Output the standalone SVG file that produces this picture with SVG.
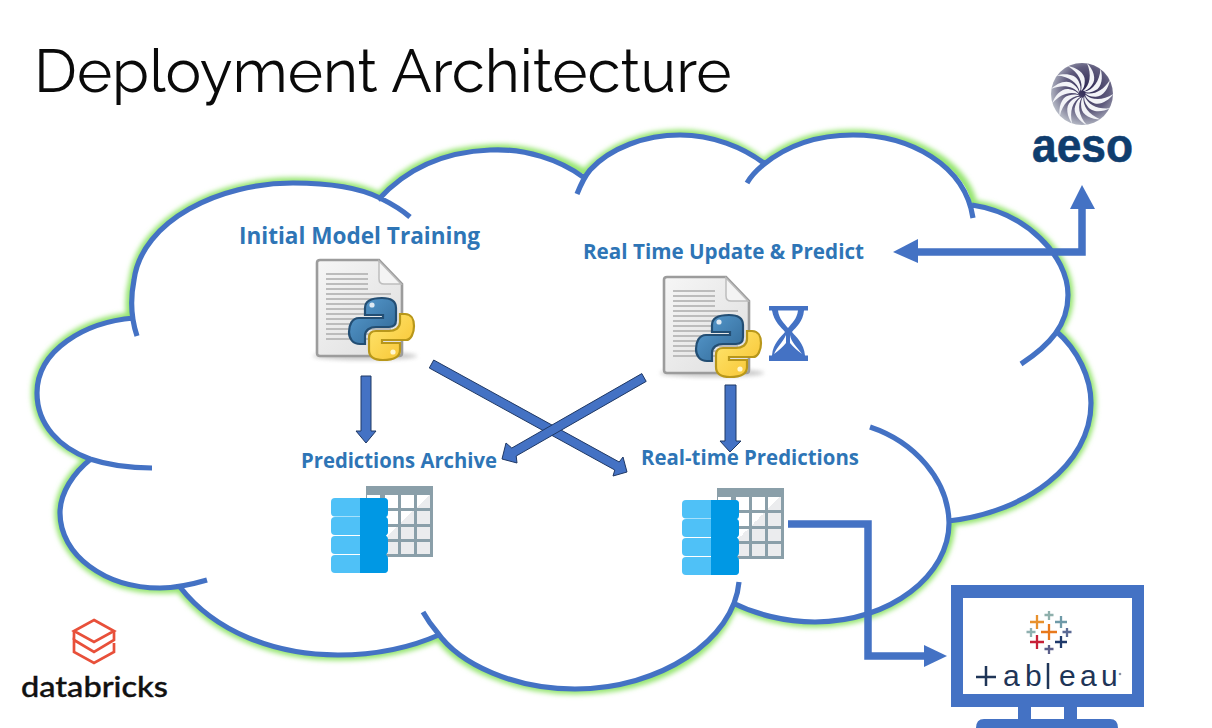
<svg xmlns="http://www.w3.org/2000/svg" width="1212" height="728" viewBox="0 0 1212 728">
<defs>
<style>
.t{font-family:"Open Sans","Noto Sans",sans-serif;font-weight:700;fill:#2e75b6}
.c{fill:none;stroke:#4472c4;stroke-width:5.2;stroke-linecap:butt}
.g{fill:none;stroke:#95e56f;stroke-width:11}
.w{fill:#fff}
.wire{fill:none;stroke:#4472c4;stroke-width:7.5}
.head{fill:#4472c4}
.big{fill:#4472c4;stroke:#1f3864;stroke-width:1}
.tb{font-family:"Liberation Sans",Arial,sans-serif;font-size:30px;fill:#1f3557}
</style>
<filter id="blur" x="-10%" y="-10%" width="120%" height="120%"><feGaussianBlur stdDeviation="2.8"/></filter>
<filter id="soft" x="-20%" y="-50%" width="140%" height="200%"><feGaussianBlur stdDeviation="2"/></filter>
<linearGradient id="py1" x1="0" y1="0" x2="1" y2="1"><stop offset="0" stop-color="#5a9fd4"/><stop offset="1" stop-color="#2f6592"/></linearGradient>
<linearGradient id="py2" x1="0" y1="0" x2="1" y2="1"><stop offset="0" stop-color="#ffe873"/><stop offset="1" stop-color="#f7c22e"/></linearGradient>
<linearGradient id="pg" x1="0" y1="0" x2="1" y2="1"><stop offset="0" stop-color="#f6f6f6"/><stop offset="1" stop-color="#dedede"/></linearGradient>
<linearGradient id="tg" gradientUnits="userSpaceOnUse" x1="66" y1="21" x2="86" y2="41"><stop offset=".5" stop-color="#fff"/><stop offset=".5" stop-color="#ebecee"/></linearGradient>
<radialGradient id="sph" cx=".58" cy=".42" r=".6"><stop offset="0" stop-color="#2a2450"/><stop offset=".6" stop-color="#5f5b7d"/><stop offset="1" stop-color="#b4b8c4"/></radialGradient>
<path id="blade" d="M1 -3C8 -9 10 -19 5 -31C11 -25 15 -15 10 -9C7 -5 4 -3 1 -3Z" fill="#f2f3f7"/>
<path id="cl" d="M137 336C131 318 130 300 134 280C142 220 220 183 293 183C330 183 360 188 380 198C392 204 402 210 410 217M378 200C405 170 440 152 490 150C525 148 560 160 583 177M577 194C581 184 585 176 590 170C610 148 645 135 680 135C712 135 743 147 765 164M747 183C751 176 757 170 763 165C785 147 815 135 853 135C910 135 965 165 973 218M972 205C1025 213 1068 255 1068 295C1068 325 1050 345 1021 364M1056 331C1078 350 1091 378 1091 403C1091 465 1025 513 948 521M870 427C915 442 948 480 949 522C950 575 890 622 815 622C785 622 755 614 733 603M739 582C734 640 660 689 575 689C515 689 460 665 437 632C431 625 427 619 423 612M180 587C215 632 275 655 338 655C375 655 410 648 441 634M207 580C190 585 175 588 160 588C105 588 60 555 60 513C60 493 73 473 92 458M152 468C130 468 108 465 90 459C60 448 37 425 37 393C37 350 85 322 134 318"/>
<path id="ol" d="M132 318C130 305 131 292 134 280C142 220 220 183 293 183C330 183 360 188 380 198C405 170 440 152 490 150C525 148 560 160 585 175C610 148 645 135 680 135C712 135 743 147 763 165C785 147 815 135 853 135C910 135 965 165 972 205C1025 213 1068 255 1068 295C1068 310 1064 321 1056 331C1078 350 1091 378 1091 403C1091 465 1025 513 950 521C950 575 890 622 815 622C785 622 755 614 733 603C715 650 660 689 575 689C515 689 460 665 439 635C410 648 375 655 338 655C275 655 215 632 180 587C175 588 165 588 160 588C105 588 60 555 60 513C60 493 73 473 92 458C60 448 37 425 37 393C37 350 85 322 132 318Z"/>
<g id="doc">
<ellipse cx="50" cy="97" rx="52" ry="4" fill="#999" opacity=".55" filter="url(#soft)"/>
<path d="M2 4Q2 1 5 1H64L87 25V94Q87 97 84 97H5Q2 97 2 94Z" fill="url(#pg)" stroke="#9c9c9c" stroke-width="2.6"/>
<path d="M64 2V20Q64 25 69 25H86Z" fill="#f4f4f4" stroke="#bdbdbd" stroke-width="1.5"/>
<path d="M11 15H53M11 20H53M11 25H53M11 30H53M11 35H76M11 40H76M11 45H76M11 50H76M11 55H76M11 60H76M11 65H76M11 70H76M11 75H76M11 80H76" stroke="#bcbcbc" stroke-width="2" fill="none"/>
<path d="M67 39C56 39 50 42 50 49V56H68V59H44C37 59 34 66 34 73C34 80 38 85 45 85H50V77C50 71 55 68 61 68H74C79 68 81 65 81 61V49C81 42 75 39 67 39Z" fill="url(#py1)" stroke="#234e73" stroke-width="2.2"/>
<path d="M68 101C79 101 85 98 85 91V84H67V81H91C96 81 99 74 99 67C99 60 96 55 90 55H85V63C85 69 80 72 74 72H61C56 72 54 75 54 79V91C54 98 60 101 68 101Z" fill="url(#py2)" stroke="#b8971a" stroke-width="2.2"/>
<circle cx="57" cy="46" r="2.6" fill="#dfeaf3"/><circle cx="78" cy="93" r="2.6" fill="#fff7d0"/>
</g>
<g id="tbl">
<rect x="35" y="0" width="67" height="71" fill="#8a9fa9"/>
<g fill="url(#tg)"><rect x="36" y="9" width="13" height="13"/><rect x="54" y="9" width="13" height="13"/><rect x="70" y="9" width="13" height="13"/><rect x="86" y="9" width="13" height="13"/>
<rect x="54" y="25" width="13" height="13"/><rect x="70" y="25" width="13" height="13"/><rect x="86" y="25" width="13" height="13"/>
<rect x="54" y="41" width="13" height="12"/><rect x="70" y="41" width="13" height="12"/><rect x="86" y="41" width="13" height="12"/>
<rect x="54" y="56" width="13" height="12"/><rect x="70" y="56" width="13" height="12"/><rect x="86" y="56" width="13" height="12"/></g>
<g fill="#4fc1f7"><rect x="0" y="12" width="57" height="18.5" rx="4"/><rect x="0" y="31" width="57" height="18" rx="4"/><rect x="0" y="50" width="57" height="18" rx="4"/><rect x="0" y="69" width="57" height="18" rx="4"/></g>
<path d="M29 12H53Q57 12 57 16V27Q57 30 55 31Q57 32 57 35V46Q57 48 55 49.500Q57 51 57 54V64Q57 67 55 68.500Q57 70 57 73V83Q57 87 53 87H29Z" fill="#0098e4"/>
</g>
</defs>
<rect width="1212" height="728" fill="#fff"/>
<text id="title" x="34" y="92" font-family="Raleway,Lato,'Open Sans',sans-serif" font-size="60" fill="#0a0a0a">Deployment Architecture</text>

<g id="cloud">
<use href="#ol" class="g" filter="url(#blur)"/>
<use href="#ol" class="w"/>
<use href="#cl" class="c"/>
</g>

<g id="connectors">
<path class="big" d="M361 376H371V431H376L366 443L356 431H361Z"/>
<path class="big" d="M725 385H736V441H741L730 452L720 441H725Z"/>
<path class="big" d="M433.700 360L619.200 462L623 457L627 472L613 476L614.800 470L429.300 368Z"/>
<path class="big" d="M641.800 373.600L511.800 448L506 443L502 459L517 463L516.200 456L646.200 381.400Z"/>
<path class="wire" d="M788 524H868V656H925"/>
<path class="head" d="M924 645L947 656L924 667Z"/>
<path class="wire" d="M917 252H1082V209"/>
<path class="head" d="M918 239L893 252L918 263Z"/>
<path class="head" d="M1070 209L1082 185L1095 209Z"/>
</g>

<g id="initial-training">
<text class="t" x="239" y="244" font-size="22.500" textLength="241" lengthAdjust="spacingAndGlyphs">Initial Model Training</text>
<use href="#doc" x="315" y="259"/>
</g>
<g id="realtime-update">
<text class="t" x="583" y="259" font-size="21" textLength="281" lengthAdjust="spacingAndGlyphs">Real Time Update &amp; Predict</text>
<use href="#doc" x="662" y="276"/>
<path d="M769 306H808V310.500H804C803 322 796 327 792 332C796 337 804 343 805 355.500H808V361H769V355.500H772C773 343 781 337 785 332C781 327 774 322 772 310.500H769Z" fill="#4472c4"/>
<path d="M778 310.500H798C797 319 792 323 788 328C784 323 779 319 778 310.500Z" fill="#fff"/>
<path d="M786 335C783 342 777 347 774 354C779 350 783 347 786 343ZM790 335C791 342 797 347 802 354C797 350 793 347 790 343Z" fill="#fff"/>
</g>
<g id="predictions-archive">
<text class="t" x="301" y="468" font-size="20.500" textLength="196" lengthAdjust="spacingAndGlyphs">Predictions Archive</text>
<use href="#tbl" x="331" y="486"/>
</g>
<g id="realtime-predictions">
<text class="t" x="641" y="465" font-size="20.500" textLength="218" lengthAdjust="spacingAndGlyphs">Real-time Predictions</text>
<use href="#tbl" x="682" y="488"/>
</g>

<g id="aeso">
<circle cx="1082" cy="94" r="31" fill="url(#sph)"/>
<g transform="translate(1082 94)">
<use href="#blade"/><use href="#blade" transform="rotate(27)"/><use href="#blade" transform="rotate(54)"/><use href="#blade" transform="rotate(81)"/><use href="#blade" transform="rotate(108)"/><use href="#blade" transform="rotate(135)"/><use href="#blade" transform="rotate(162)"/><use href="#blade" transform="rotate(189)"/><use href="#blade" transform="rotate(216)"/><use href="#blade" transform="rotate(243)"/><use href="#blade" transform="rotate(270)"/><use href="#blade" transform="rotate(297)"/><use href="#blade" transform="rotate(324)"/>
</g>
<text x="1032" y="162" font-family="'Liberation Sans',Arial,sans-serif" font-weight="700" font-size="48" fill="#0f3d6e" stroke="#0f3d6e" stroke-width=".6" textLength="101" lengthAdjust="spacingAndGlyphs">aeso</text>
</g>

<g id="databricks">
<g fill="none" stroke="#e8503a" stroke-width="2.700">
<path d="M94 620L114 631L94 642L74 631Z"/>
<path d="M114 631V640L94 652L74 640V652L94 663L114 652V643"/>
<path d="M74 631V640"/>
</g>
<text x="21" y="697" font-family="Lato,'Open Sans',sans-serif" font-weight="500" font-size="29" fill="#111" stroke="#111" stroke-width=".4" textLength="147" lengthAdjust="spacingAndGlyphs">databricks</text>
</g>

<g id="tableau">
<path d="M951 585H1144V707H1077V719H1110Q1118 719 1118 728H976Q976 719 984 719H1018V707H951Z" fill="#4472c4"/>
<rect x="963" y="598" width="169" height="96" fill="#fff"/>
<rect x="1031" y="707" width="33" height="12" fill="#fff"/>
<g fill="none" stroke-width="2.300">
<path d="M1037 615V629M1030 622H1044" stroke="#e8912d"/>
<path d="M1049 611V620M1044.500 615H1053.500" stroke="#8fb0ac"/>
<path d="M1061 616V628M1055 622H1067" stroke="#6f9aa8"/>
<path d="M1031 628V637M1026.500 632H1035.500" stroke="#8fb0b0"/>
<path d="M1049 624V640M1041 632H1057" stroke="#e8791c"/>
<path d="M1067 628V637M1062.500 632H1071.500" stroke="#5b6a94"/>
<path d="M1037 635V649M1030 642H1044" stroke="#c72037"/>
<path d="M1061 636V648M1055 642H1067" stroke="#1f3a6b"/>
<path d="M1049 645V654M1044.500 649H1053.500" stroke="#5b5f8a"/>
</g>
<path d="M976 677H996M986 666V686" stroke="#1f3557" stroke-width="2.500" fill="none"/>
<text class="tb" x="1003 1025" y="686">ab</text>
<path d="M1048 663V689" stroke="#1f3557" stroke-width="2.500"/>
<text class="tb" x="1059 1080 1101" y="686">eau</text>
<circle cx="1120" cy="674" r="1.300" fill="#8a93a5"/>
</g>
</svg>
